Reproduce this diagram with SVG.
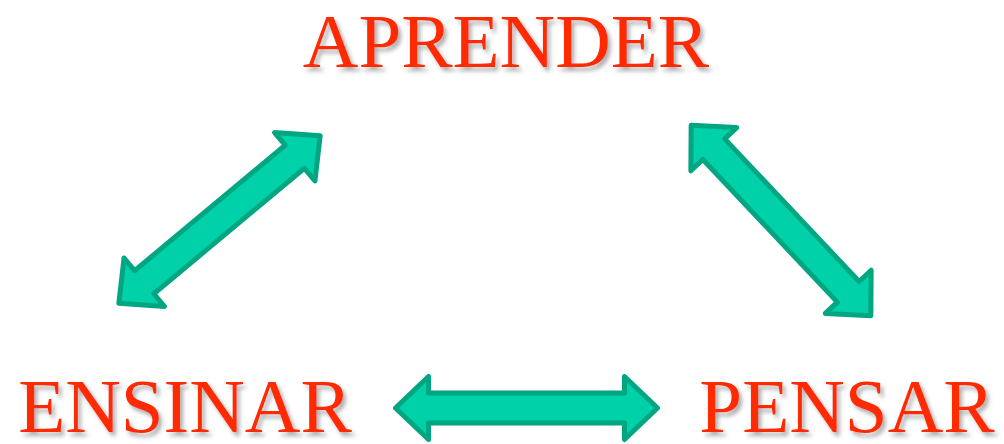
<svg xmlns="http://www.w3.org/2000/svg" width="1004" height="444" viewBox="0 0 1004 444">
<defs>
<style>
.lbl{font-family:"Liberation Serif","Times New Roman",serif;font-size:77px;fill:#FF2A00;text-anchor:middle;filter:url(#sh)}
.arr{fill:#00D1A9;stroke:#00A681;stroke-width:5;stroke-linejoin:round}
</style>
<filter id="sh" x="-10%" y="-20%" width="120%" height="150%">
<feDropShadow dx="3" dy="4" stdDeviation="2" flood-color="#777" flood-opacity="0.6"/>
</filter>
<path id="dbl" d="M -131 0 L -98 -31.5 L -98 -15 L 98 -15 L 98 -31.5 L 131 0 L 98 31.5 L 98 15 L -98 15 L -98 31.5 Z"/>
</defs>
<rect width="1004" height="444" fill="#fff"/>
<g id="connectors">
<use href="#dbl" class="arr" transform="translate(219.5 219.5) rotate(-39.8)"/>
<use href="#dbl" class="arr" transform="translate(781 220.5) rotate(46.7)"/>
<use href="#dbl" class="arr" transform="translate(526.5 408)"/>
</g>
<g id="aprender"><text class="lbl" x="506" y="67">APRENDER</text></g>
<g id="ensinar"><text class="lbl" x="185" y="432">ENSINAR</text></g>
<g id="pensar"><text class="lbl" x="847" y="432">PENSAR</text></g>
</svg>
